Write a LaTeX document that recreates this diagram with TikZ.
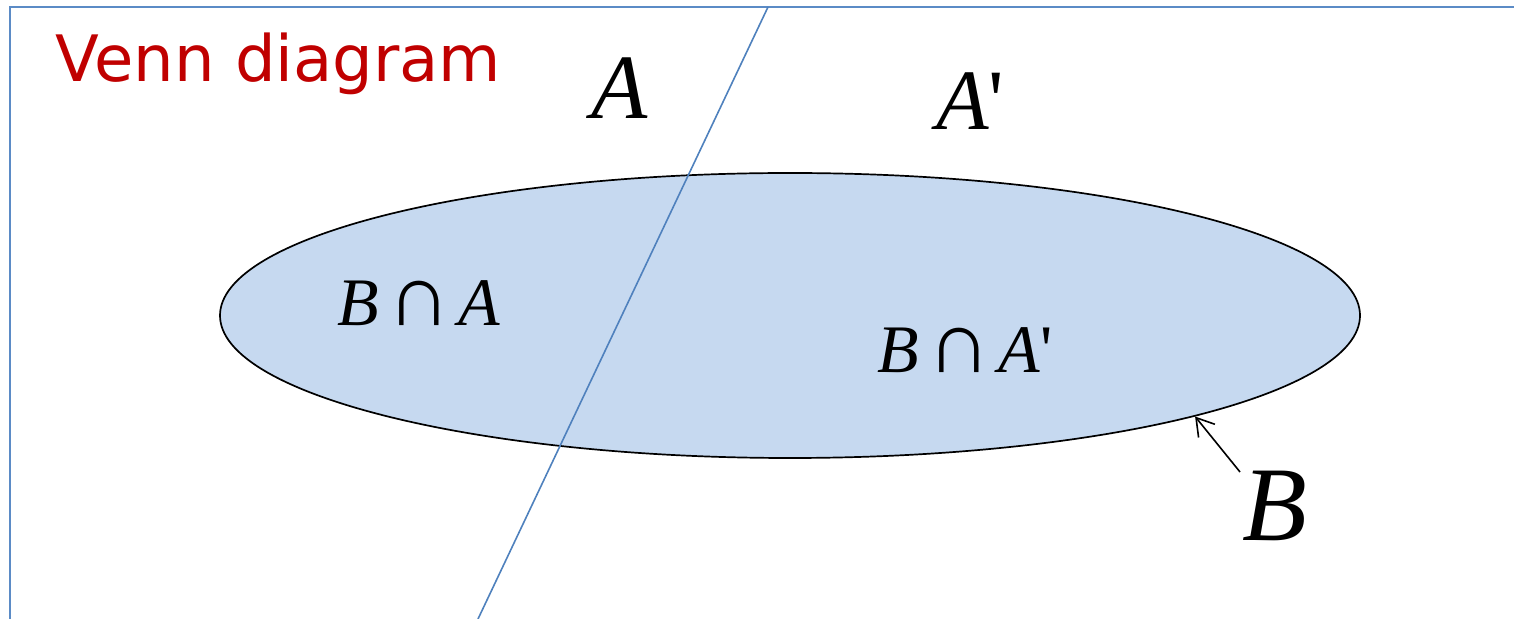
\documentclass[tikz,border=0pt]{standalone}
\usepackage{fontspec}
\usepackage{tikz}
\usetikzlibrary{arrows.meta,positioning,shapes.geometric}
\newfontfamily\vennsans{DejaVu Sans}
\newfontfamily\vennserif{Liberation Serif}
\definecolor{ink}{HTML}{000000}
\definecolor{titlered}{HTML}{C00000}
\definecolor{lineblue}{HTML}{4F81BD}
\definecolor{framblue}{HTML}{5B8BC6}
\definecolor{setfill}{HTML}{C6D9F0}
\tikzset{
  >=Latex,
  every node/.style={text=ink},
  frame/.style={draw=framblue,line width=1pt},
  divider/.style={draw=lineblue,line width=0.8pt},
  setshape/.style={ellipse,draw=ink,fill=setfill,line width=0.85pt,inner sep=0pt,minimum width=570pt,minimum height=142.5pt},
  title/.style={font=\vennsans\fontsize{32}{36}\selectfont,text=titlered,anchor=base west,inner sep=0pt},
  setname/.style={font=\vennserif\itshape\fontsize{46}{50}\selectfont,anchor=base,inner sep=0pt},
  regionlabel/.style={font=\vennserif\itshape\fontsize{34}{38}\selectfont,anchor=base,inner sep=0pt},
  pointer/.style={-{Straight Barb[length=8.5pt,width=10.5pt]},line width=0.8pt,draw=ink}
}
\newcommand{\capsym}{{\upshape\hspace{4pt}{\fontsize{44}{44}\selectfont ∩}\hspace{4pt}}}
\begin{document}
\begin{tikzpicture}[x={(0.5pt,0pt)},y={(0pt,-0.5pt)}]
  \useasboundingbox (0,0) rectangle (1514,619);
  \draw[frame] (1514,7) -- (10,7) -- (10,619);

  \node[setshape] (setB) at (790,315.5) {};
  \coordinate (cutTop) at (768,7);
  \coordinate (cutBot) at (478,619);
  \draw[divider] (cutTop) -- (cutBot);

  \node[title] (heading) at (55,82) {Venn diagram};
  \node[setname] (labA) at (620,119) {A};
  \node[setname,font=\vennserif\itshape\fontsize{43}{48}\selectfont] (labAc) at (970,130) {A{\upshape '}};
  \node[regionlabel] (inter) at (419,326) {B\capsym A};
  \node[regionlabel] (diff) at (965,373) {B\capsym A{\upshape '}};
  \node[setname,font=\vennserif\itshape\fontsize{53}{58}\selectfont] (labB) at (1275,540) {B};

  \coordinate (ptrStart) at (1240,472);
  \draw[pointer] (ptrStart) -- (setB.-14);
\end{tikzpicture}
\end{document}
